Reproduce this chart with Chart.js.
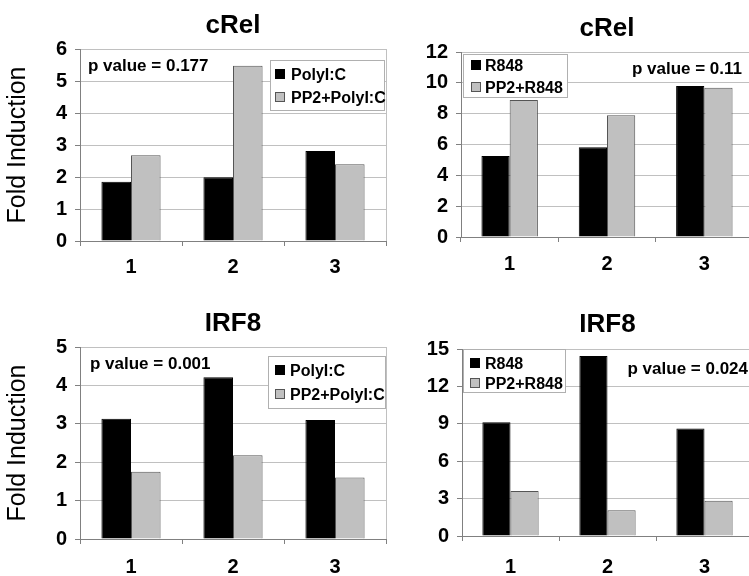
<!DOCTYPE html>
<html>
<head>
<meta charset="utf-8">
<script src="https://cdn.jsdelivr.net/npm/chart.js@4.4.1/dist/chart.umd.min.js"></script>
<style>
  body { margin: 0; background: #fff; }
  #wrap { position: relative; width: 749px; height: 576px; overflow: hidden; background: #fff; }
  canvas { position: absolute; }
</style>
</head>
<body>
<div id="wrap">
  <canvas id="c1"></canvas>
  <canvas id="c2"></canvas>
  <canvas id="c3"></canvas>
  <canvas id="c4"></canvas>
</div>
<script>
// data
const categories = ['1', '2', '3'];

const crelPolyIC = [1.85, 1.99, 2.81];
const crelPP2PolyIC = [2.68, 5.48, 2.40];
const crelR848 = [5.25, 5.82, 9.79];
const crelPP2R848 = [8.88, 7.89, 9.68];

const irf8PolyIC = [3.13, 4.21, 3.10];
const irf8PP2PolyIC = [1.75, 2.18, 1.60];
const irf8R848 = [9.12, 14.43, 8.63];
const irf8PP2R848 = [3.60, 2.06, 2.83];

const yMax = [6, 12, 5, 15];
const yStep = [1, 2, 1, 3];
const titles = ['cRel', 'cRel', 'IRF8', 'IRF8'];
const pValues = ['p value = 0.177', 'p value = 0.11', 'p value = 0.001', 'p value = 0.024'];

const FONT = "'Liberation Sans', Arial, sans-serif";

// where each panel sits on the page
const panels = [
    { id: 'c1', left: 0, top: 0, w: 390, h: 290, area: { l: 80, t: 49, r: 386, b: 241 },
      titleY: 24, yTitle: true, xPad: 9,
      p: { x: 88, y: 65, align: 'left' },
      legend: { x: 270, y: 60, w: 114, h: 50, rows: [74, 97], sw: 275, tx: 291 },
      series: [['PolyI:C', crelPolyIC], ['PP2+PolyI:C', crelPP2PolyIC]] },
    { id: 'c2', left: 390, top: 0, w: 369, h: 290, area: { l: 71, t: 52, r: 363, b: 237 },
      titleY: 27, yTitle: false, xPad: 10,
      p: { x: 352, y: 68, align: 'right' },
      legend: { x: 73, y: 54, w: 104, h: 43, rows: [65, 87], sw: 81, tx: 95 },
      series: [['R848', crelR848], ['PP2+R848', crelPP2R848]] },
    { id: 'c3', left: 0, top: 290, w: 390, h: 286, area: { l: 80, t: 57, r: 386, b: 249 },
      titleY: 32, yTitle: true, xPad: 11,
      p: { x: 90, y: 73, align: 'left' },
      legend: { x: 268, y: 66, w: 117, h: 52, rows: [80, 104], sw: 275, tx: 290 },
      series: [['PolyI:C', irf8PolyIC], ['PP2+PolyI:C', irf8PP2PolyIC]] },
    { id: 'c4', left: 390, top: 290, w: 369, h: 286, area: { l: 72, t: 59, r: 363, b: 246 },
      titleY: 33, yTitle: false, xPad: 14,
      p: { x: 358, y: 78, align: 'right' },
      legend: { x: 73, y: 59, w: 102, h: 43, rows: [73, 93], sw: 80, tx: 95 },
      series: [['R848', irf8R848], ['PP2+R848', irf8PP2R848]] }
];

const barFill = ['#000000', '#c0c0c0'];
const barEdge = ['#000000', '#555555'];

// title, p value, legend box and right frame line
const decor = {
    id: 'decor',
    afterDraw(chart, args, opts) {
        const ctx = chart.ctx;
        const a = chart.chartArea;
        ctx.save();
        ctx.strokeStyle = '#c0c0c0';
        ctx.lineWidth = 1;
        ctx.beginPath();
        ctx.moveTo(Math.round(a.right) + 0.5, a.top);
        ctx.lineTo(Math.round(a.right) + 0.5, a.bottom);
        ctx.stroke();

        ctx.fillStyle = '#000';
        ctx.font = 'bold 26px ' + FONT;
        ctx.textAlign = 'center';
        ctx.textBaseline = 'alphabetic';
        ctx.fillText(opts.title, (a.left + a.right) / 2, opts.titleY + 26 * 0.358);

        ctx.font = 'bold 17px ' + FONT;
        ctx.textAlign = opts.p.align;
        ctx.fillText(opts.pText, opts.p.x, opts.p.y + 17 * 0.358);

        const lg = opts.legend;
        ctx.fillStyle = '#fff';
        ctx.fillRect(lg.x, lg.y, lg.w, lg.h);
        ctx.strokeStyle = '#b0b0b0';
        ctx.strokeRect(lg.x + 0.5, lg.y + 0.5, lg.w, lg.h);
        ctx.font = 'bold 16px ' + FONT;
        ctx.textAlign = 'left';
        chart.data.datasets.forEach((ds, i) => {
            const cy = lg.rows[i];
            ctx.fillStyle = ds.backgroundColor;
            ctx.fillRect(lg.sw, cy - 5, 10, 10);
            ctx.strokeStyle = ds.borderColor;
            ctx.strokeRect(lg.sw + 0.5, cy - 4.5, 9, 9);
            ctx.fillStyle = '#000';
            ctx.fillText(ds.label, lg.tx, cy + 16 * 0.358);
        });
        ctx.restore();
    }
};

panels.forEach((pn, k) => {
    const cv = document.getElementById(pn.id);
    cv.width = pn.w;
    cv.height = pn.h;
    cv.style.left = pn.left + 'px';
    cv.style.top = pn.top + 'px';
    cv.style.width = pn.w + 'px';
    cv.style.height = pn.h + 'px';

    new Chart(cv.getContext('2d'), {
        type: 'bar',
        data: {
            labels: categories,
            datasets: pn.series.map((s, i) => ({
                label: s[0],
                data: s[1],
                backgroundColor: barFill[i],
                borderColor: barEdge[i],
                borderWidth: 1,
                categoryPercentage: 0.58,
                barPercentage: 1.0
            }))
        },
        options: {
            responsive: false,
            animation: false,
            devicePixelRatio: 1,
            layout: { padding: { left: 0, top: pn.area.t, right: pn.w - pn.area.r, bottom: 0 } },
            plugins: {
                legend: { display: false },
                tooltip: { enabled: false },
                decor: { title: titles[k], titleY: pn.titleY, pText: pValues[k], p: pn.p, legend: pn.legend }
            },
            scales: {
                x: {
                    grid: { offset: true, drawOnChartArea: false, tickLength: 5, tickColor: '#808080' },
                    border: { color: '#808080' },
                    ticks: { color: '#000', padding: pn.xPad, font: { family: FONT, size: 20, weight: 'bold' } },
                    afterFit: (s) => { s.height = pn.h - pn.area.b; }
                },
                y: {
                    min: 0,
                    max: yMax[k],
                    ticks: { stepSize: yStep[k], color: '#000', padding: 8, font: { family: FONT, size: 20, weight: 'bold' } },
                    grid: { color: '#c0c0c0', tickLength: 5, tickColor: '#808080' },
                    border: { color: '#808080' },
                    title: { display: pn.yTitle, text: 'Fold Induction', color: '#000', padding: { top: 3, bottom: 0 },
                             font: { family: FONT, size: 25, weight: 'normal' } },
                    afterFit: (s) => { s.width = pn.area.l; }
                }
            }
        },
        plugins: [decor]
    });
});
</script>
</body>
</html>
